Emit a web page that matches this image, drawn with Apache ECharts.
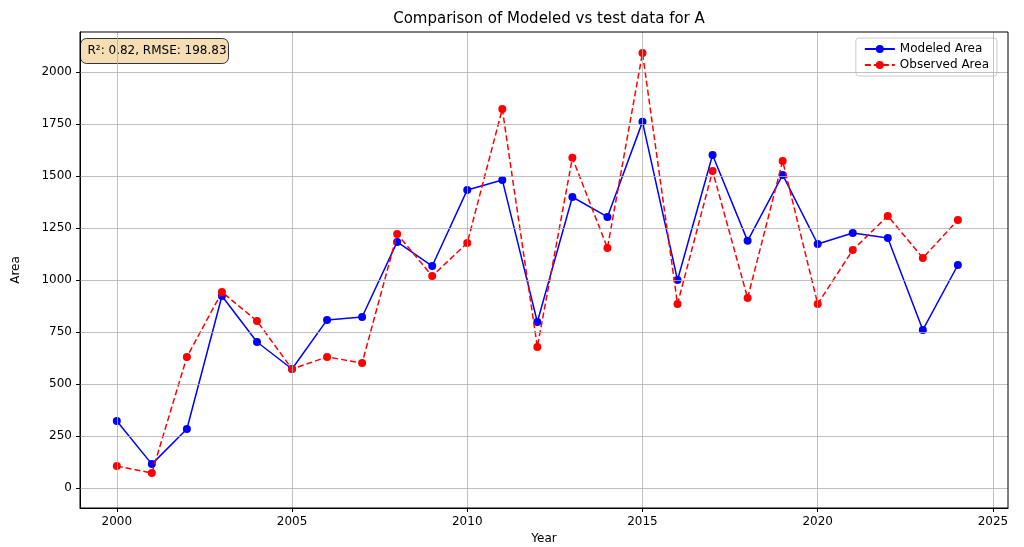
<!DOCTYPE html>
<html><head><meta charset="utf-8">
<script src="https://cdn.jsdelivr.net/npm/echarts@6/dist/echarts.min.js"></script>
<style>html,body{margin:0;padding:0;background:#fff}#c{width:1024px;height:547px}</style>
</head><body><div id="c"></div>
<script>
const years = [2000,2001,2002,2003,2004,2005,2006,2007,2008,2009,2010,2011,2012,2013,2014,2015,2016,2017,2018,2019,2020,2021,2022,2023,2024];
const modeled = [322,115,284,923,702,572,808,822,1183,1067,1433,1481,798,1399,1303,1760,1000,1601,1188,1505,1173,1226,1202,760,1072];
const observed = [106,72,630,942,803,572,630,601,1221,1019,1178,1822,678,1587,1154,2091,885,1524,913,1572,885,1144,1308,1106,1288];
const xTicks = [2000,2005,2010,2015,2020,2025];
const yTicks = [0,250,500,750,1000,1250,1500,1750,2000];

const font = 'DejaVu Sans';
const chart = echarts.init(document.getElementById('c'));
const gridLines = {
  silent: true, symbol: 'none', label: {show: false},
  lineStyle: {color: '#b0b0b0', width: 0.8, type: 'solid'},
  data: xTicks.map(v => ({xAxis: v})).concat(yTicks.map(v => ({yAxis: v})))
};
chart.setOption({
  animation: false,
  textStyle: {fontFamily: font},
  title: {text: 'Comparison of Modeled vs test data for A', left: 544, top: 7, textAlign: 'center',
    textStyle: {fontFamily: font, fontSize: 15, fontWeight: 'normal', color: '#000'}},
  grid: {left: 80, right: 16, top: 32, bottom: 39, containLabel: false, outerBoundsMode: 'none'},
  xAxis: {type: 'value', min: 1998.95, max: 2025.43, name: 'Year', nameLocation: 'middle', nameGap: 24,
    nameTextStyle: {color: '#000', fontSize: 12},
    axisLine: {show: true, onZero: false, lineStyle: {color: '#000'}},
    axisTick: {show: true, customValues: xTicks, length: 4, lineStyle: {color: '#000'}},
    axisLabel: {customValues: xTicks, color: '#000', fontSize: 12, margin: 8, formatter: v => String(v)},
    splitLine: {show: false}},
  yAxis: {type: 'value', min: -96, max: 2192, name: 'Area', nameLocation: 'middle', nameGap: 58,
    nameTextStyle: {color: '#000', fontSize: 12},
    axisLine: {show: true, lineStyle: {color: '#000'}},
    axisTick: {show: true, customValues: yTicks, length: 4, lineStyle: {color: '#000'}},
    axisLabel: {customValues: yTicks, color: '#000', fontSize: 12, margin: 8, formatter: v => String(v)},
    splitLine: {show: false}},
  legend: {right: 27, top: 38, orient: 'vertical', itemGap: 4, itemWidth: 30, itemHeight: 10,
    backgroundColor: '#fff', borderColor: '#ccc', borderWidth: 1, borderRadius: 3, padding: [5, 8],
    textStyle: {fontSize: 12, color: '#000'},
    data: ['Modeled Area', 'Observed Area']},
  graphic: [
    {type: 'rect', shape: {x: 80, y: 32, width: 928, height: 476}, silent: true,
      style: {fill: 'none', stroke: '#000', lineWidth: 1}, z: 10},
    {type: 'group', left: 80, top: 38, z: 20, children: [
      {type: 'rect', shape: {x: 0, y: 0, width: 148, height: 25, r: 6},
        style: {fill: '#f5deb3', stroke: '#333', lineWidth: 1}},
      {type: 'text', style: {x: 7, y: 6, text: 'R²: 0.82, RMSE: 198.83', fontFamily: font, fontSize: 12, fill: '#000'}}
    ]}
  ],
  series: [
    {name: 'Modeled Area', type: 'line', data: years.map((y, i) => [y, modeled[i]]),
      symbol: 'circle', symbolSize: 8, color: '#0000ff', lineStyle: {width: 1.5}, markLine: gridLines, z: 3},
    {name: 'Observed Area', type: 'line', data: years.map((y, i) => [y, observed[i]]),
      symbol: 'circle', symbolSize: 8, color: '#ff0000', lineStyle: {width: 1.5, type: [6, 3]}, z: 4}
  ]
});
</script></body></html>
